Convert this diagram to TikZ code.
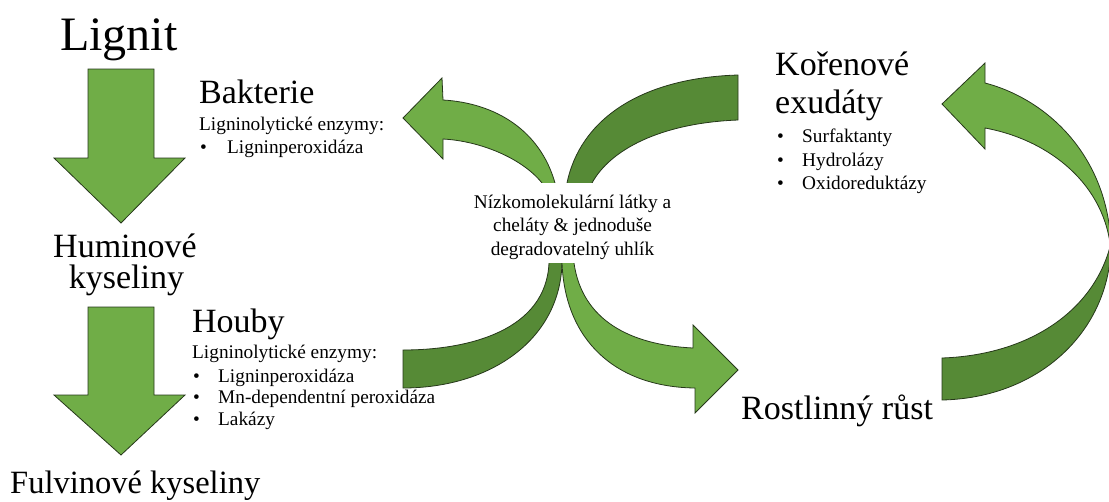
\documentclass[tikz,border=0pt]{standalone}
\usepackage{fontspec}
\setmainfont{Liberation Serif}
\definecolor{lightg}{HTML}{70AD47}
\definecolor{darkg}{HTML}{568A36}
\definecolor{edgec}{HTML}{26381A}
\begin{document}
\begin{tikzpicture}[x=1pt,y=-1pt,
  lg/.style={fill=lightg, draw=edgec, line width=0.8pt, line join=miter},
  dg/.style={fill=darkg, draw=edgec, line width=0.8pt, line join=miter},
  huge/.style={font=\fontsize{48}{56}\selectfont, inner sep=0pt, anchor=base west},
  big/.style={font=\fontsize{34}{40}\selectfont, inner sep=0pt, anchor=base west},
  bigc/.style={font=\fontsize{34}{40}\selectfont, inner sep=0pt, anchor=base},
  small/.style={font=\fontsize{19.3}{23.5}\selectfont, inner sep=0pt, anchor=base west},
]
\useasboundingbox (0,0) rectangle (1109,501);

% vertical down arrows
\draw[lg] (88,69) -- (154,69) -- (154,158) -- (185,158) -- (121,223) -- (54,158) -- (88,158) -- cycle;
\draw[lg] (88,307) -- (154,307) -- (154,395) -- (185,395) -- (121,455) -- (54,395) -- (88,395) -- cycle;

% central curved arrows
\draw[lg] (556,198) -- (555,183) .. controls (540,130) and (495,103) .. (443,100) -- (442,78) -- (403,118) -- (443,159) -- (443,139) .. controls (480,141) and (522,158) .. (542,183) -- (545,198) -- cycle;
\draw[dg] (567,198) -- (567,183) .. controls (580,120) and (640,78) .. (738,75) -- (738,120) .. controls (660,123) and (610,150) .. (592,183) -- (588,198) -- cycle;
\draw[dg] (549,250) -- (549,263) .. controls (546,330) and (470,350) .. (403,350) -- (403,388) .. controls (490,388) and (560,340) .. (562,263) -- (562,250) -- cycle;
\draw[lg] (562,250) -- (562,263) .. controls (565,340) and (615,387) .. (695,388) -- (695,413) -- (738,370) -- (693,325) -- (693,348) .. controls (630,345) and (582,320) .. (574,263) -- (573,250) -- cycle;

% right arc
\draw[dg] (942,400) .. controls (1040,398) and (1111,330) .. (1111,243) .. controls (1095,310) and (1030,355) .. (942,358) -- cycle;
\draw[lg] (985,128) -- (985,149) -- (942,104) -- (985,63) -- (985,83) .. controls (1050,100) and (1111,160) .. (1111,252) .. controls (1106,185) and (1050,140) .. (985,128) -- cycle;

% central label
\node[fill=white, inner sep=0pt, minimum width=204pt, minimum height=80pt] (cbox) at (573,223) {};
\node[font=\fontsize{19.3}{23.5}\selectfont, align=center, inner sep=0pt] (center) at (572.5,227)
  {Nízkomolekulární látky a\\cheláty \& jednoduše\\degradovatelný uhlík};

% left column
\node[huge] (lignit) at (60,50) {Lignit};
\node[bigc] (humin1) at (125,257) {Huminové};
\node[bigc] (humin2) at (126.5,288) {kyseliny};
\node[font=\fontsize{32.5}{38}\selectfont, inner sep=0pt, anchor=base west] (fulvin) at (10,493) {Fulvinové kyseliny};

% bacteria
\node[big] (bakt) at (199,103) {Bakterie};
\node[small] (bakt1) at (199,130) {Ligninolytické enzymy:};
\node[small] (bakt2b) at (200,153) {•};
\node[small] (bakt2) at (227,153) {Ligninperoxidáza};

% fungi
\node[big] (houby) at (192,332) {Houby};
\node[small] (houby1) at (192,358) {Ligninolytické enzymy:};
\node[small] (hb1) at (193,382) {•};
\node[small] (houby2) at (218,382) {Ligninperoxidáza};
\node[small] (hb2) at (193,403) {•};
\node[small] (houby3) at (218,403) {Mn-dependentní peroxidáza};
\node[small] (hb3) at (193,425) {•};
\node[small] (houby4) at (218,425) {Lakázy};

% root exudates
\node[big] (kor1) at (775,75) {Kořenové};
\node[big] (kor2) at (775,113) {exudáty};
\node[small] (kb1) at (777,142) {•};
\node[small] (kor3) at (802,142) {Surfaktanty};
\node[small] (kb2) at (777,166) {•};
\node[small] (kor4) at (802,166) {Hydrolázy};
\node[small] (kb3) at (777,189) {•};
\node[small] (kor5) at (802,189) {Oxidoreduktázy};

% plant growth
\node[big] (rust) at (741,419) {Rostlinný růst};
\end{tikzpicture}
\end{document}
